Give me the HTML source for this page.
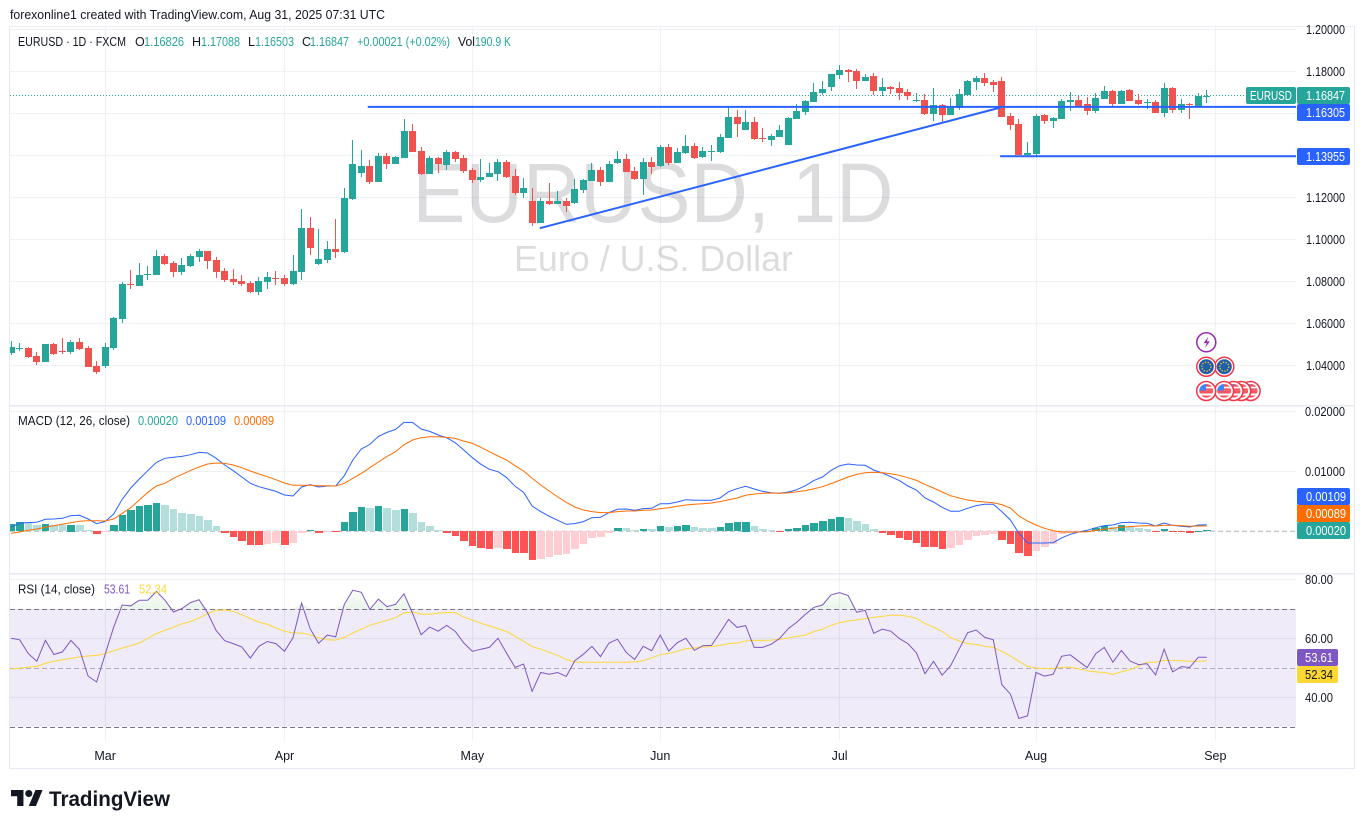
<!DOCTYPE html>
<html lang="en">
<head>
<meta charset="utf-8">
<title>EURUSD 1D chart</title>
<style>
html,body{margin:0;padding:0;background:#fff;width:1364px;height:829px;overflow:hidden}
svg{display:block}
text{font-family:"Liberation Sans",sans-serif;font-size:12.5px;fill:#131722}
</style>
</head>
<body>
<svg id="chart" width="1364" height="829" viewBox="0 0 1364 829" xmlns="http://www.w3.org/2000/svg">
  <defs>
    <clipPath id="pane-clip-main"><rect x="10" y="27" width="1286" height="378"/></clipPath>
    <clipPath id="pane-clip-macd"><rect x="10" y="407" width="1286" height="166"/></clipPath>
    <clipPath id="pane-clip-rsi"><rect x="10" y="575" width="1286" height="166"/></clipPath>
    <linearGradient id="ob-grad" gradientUnits="userSpaceOnUse" x1="0" y1="609" x2="0" y2="585">
      <stop offset="0" stop-color="#4caf50" stop-opacity="0.12"/>
      <stop offset="1" stop-color="#4caf50" stop-opacity="0"/>
    </linearGradient>
  </defs>

  <text x="10" y="19" textLength="375" lengthAdjust="spacingAndGlyphs">forexonline1 created with TradingView.com, Aug 31, 2025 07:31 UTC</text>

  <g id="grid"></g>

  <text x="653" y="222" text-anchor="middle" textLength="481" lengthAdjust="spacingAndGlyphs" style="font-size:84px;fill:rgba(19,23,34,.15)">EURUSD, 1D</text>
  <text x="653.5" y="271" text-anchor="middle" textLength="279" lengthAdjust="spacingAndGlyphs" style="font-size:36px;fill:rgba(19,23,34,.15)">Euro / U.S. Dollar</text>

  <g id="rsi-band-layer"></g>
  <g id="last-price-layer"></g>
  <g id="candles" clip-path="url(#pane-clip-main)" shape-rendering="crispEdges"></g>
  <g id="drawings"></g>
  <g id="macd-layer" clip-path="url(#pane-clip-macd)"></g>
  <g id="rsi-layer" clip-path="url(#pane-clip-rsi)"></g>

  <!-- pane frame -->
  <g fill="#e6e9f1" shape-rendering="crispEdges">
    <rect x="9" y="26" width="1" height="743"/>
    <rect x="9" y="26" width="1346" height="1" fill="#eceef3"/>
    <rect x="1354" y="26" width="1" height="743"/>
    <rect x="9" y="768" width="1346" height="1"/>
    <rect x="10" y="405" width="1344" height="1.5"/>
    <rect x="10" y="573" width="1344" height="1.5"/>
  </g>

  <!-- legends -->
  <g>
    <text x="18" y="46" textLength="108" lengthAdjust="spacingAndGlyphs">EURUSD · 1D · FXCM</text>
    <text x="135" y="46">O</text>
    <text x="144" y="46" textLength="40" lengthAdjust="spacingAndGlyphs" style="fill:#26a69a">1.16826</text>
    <text x="192" y="46">H</text>
    <text x="201" y="46" textLength="39" lengthAdjust="spacingAndGlyphs" style="fill:#26a69a">1.17088</text>
    <text x="248" y="46">L</text>
    <text x="255" y="46" textLength="39" lengthAdjust="spacingAndGlyphs" style="fill:#26a69a">1.16503</text>
    <text x="302" y="46">C</text>
    <text x="310" y="46" textLength="39" lengthAdjust="spacingAndGlyphs" style="fill:#26a69a">1.16847</text>
    <text x="357" y="46" textLength="93" lengthAdjust="spacingAndGlyphs" style="fill:#26a69a">+0.00021 (+0.02%)</text>
    <text x="458" y="46" textLength="17" lengthAdjust="spacingAndGlyphs">Vol</text>
    <text x="475" y="46" textLength="36" lengthAdjust="spacingAndGlyphs" style="fill:#26a69a">190.9 K</text>
  </g>
  <g>
    <text x="18" y="425" textLength="112" lengthAdjust="spacingAndGlyphs">MACD (12, 26, close)</text>
    <text x="138" y="425" textLength="40" lengthAdjust="spacingAndGlyphs" style="fill:#26a69a">0.00020</text>
    <text x="186" y="425" textLength="40" lengthAdjust="spacingAndGlyphs" style="fill:#2962ff">0.00109</text>
    <text x="234" y="425" textLength="40" lengthAdjust="spacingAndGlyphs" style="fill:#ff6d00">0.00089</text>
  </g>
  <g>
    <text x="18" y="593.5" textLength="77" lengthAdjust="spacingAndGlyphs">RSI (14, close)</text>
    <text x="104" y="593.5" textLength="26" lengthAdjust="spacingAndGlyphs" style="fill:#7e57c2">53.61</text>
    <text x="139" y="593.5" textLength="28" lengthAdjust="spacingAndGlyphs" style="fill:#fdd835">52.34</text>
  </g>

  <g id="axis-labels"></g>

  <!-- price-scale tags -->
  <g>
    <rect x="1246" y="87" width="50" height="17" rx="2" fill="#26a69a"/>
    <text x="1250" y="100" textLength="42" lengthAdjust="spacingAndGlyphs" style="fill:#fff">EURUSD</text>
    <rect x="1297" y="87" width="53" height="17" rx="2" fill="#26a69a"/>
    <text x="1306" y="100" textLength="39" lengthAdjust="spacingAndGlyphs" style="fill:#fff">1.16847</text>
    <rect x="1297" y="104" width="53" height="17" rx="2" fill="#2962ff"/>
    <text x="1306" y="117" textLength="39" lengthAdjust="spacingAndGlyphs" style="fill:#fff">1.16305</text>
    <rect x="1297" y="148" width="53" height="17" rx="2" fill="#2962ff"/>
    <text x="1306" y="161" textLength="39" lengthAdjust="spacingAndGlyphs" style="fill:#fff">1.13955</text>
    <rect x="1297" y="488" width="53" height="17" rx="2" fill="#2962ff"/>
    <text x="1306" y="501" textLength="40" lengthAdjust="spacingAndGlyphs" style="fill:#fff">0.00109</text>
    <rect x="1297" y="505" width="53" height="17" fill="#ff6d00"/>
    <text x="1306" y="518" textLength="40" lengthAdjust="spacingAndGlyphs" style="fill:#fff">0.00089</text>
    <rect x="1297" y="522" width="53" height="17" rx="2" fill="#26a69a"/>
    <text x="1306" y="535" textLength="40" lengthAdjust="spacingAndGlyphs" style="fill:#fff">0.00020</text>
    <rect x="1297" y="649" width="41" height="17" rx="2" fill="#7e57c2"/>
    <text x="1305" y="662" textLength="28" lengthAdjust="spacingAndGlyphs" style="fill:#fff">53.61</text>
    <rect x="1297" y="666" width="41" height="17" rx="2" fill="#fdd835"/>
    <text x="1305" y="679" textLength="28" lengthAdjust="spacingAndGlyphs">52.34</text>
  </g>

  <!-- economic event markers -->
  <g>
    <g>
      <circle cx="1206.3" cy="342.3" r="9.5" fill="#fff" stroke="#9c27b0" stroke-width="1.5"/>
      <path d="M1208.3 336.8l-4.6 6.2h3l-1.6 4.8 4.8-6.4h-3z" fill="#9c27b0"/>
    </g>
    <g>
      <circle cx="1224.3" cy="366.7" r="9.5" fill="#fff" stroke="#f23645" stroke-width="1.5"/>
      <circle cx="1224.3" cy="366.7" r="7.5" fill="#1d5fa8"/>
      <circle cx="1224.3" cy="366.7" r="4.5" fill="none" stroke="#f7c325" stroke-width="1.4" stroke-dasharray="1.3 1.5"/>
    </g>
    <g>
      <circle cx="1206.3" cy="366.7" r="9.5" fill="#fff" stroke="#f23645" stroke-width="1.5"/>
      <circle cx="1206.3" cy="366.7" r="7.5" fill="#1d5fa8"/>
      <circle cx="1206.3" cy="366.7" r="4.5" fill="none" stroke="#f7c325" stroke-width="1.4" stroke-dasharray="1.3 1.5"/>
    </g>
    <g id="us-markers"></g>
  </g>

  <!-- logo -->
  <g>
    <g transform="translate(11 786.4) scale(.89)" fill="#131722">
      <path d="M14 22H7V11H0V4h14v18zM28 22h-8l7.5-18h8L28 22z"/>
      <circle cx="20" cy="8" r="4"/>
    </g>
    <text x="49" y="806" textLength="121" lengthAdjust="spacingAndGlyphs" style="font-size:21px;font-weight:700">TradingView</text>
  </g>
</svg>

<script>
// ---------- chart data ----------
const priceTicks = [1.20, 1.18, 1.16, 1.14, 1.12, 1.10, 1.08, 1.06, 1.04];
const macdTicks = [0.02, 0.01];
const rsiTicks = [80, 60, 40];
const rsiLevels = [70, 50, 30];
const monthLabels = ['Mar', 'Apr', 'May', 'Jun', 'Jul', 'Aug', 'Sep'];
const monthBars = [11, 32, 54, 76, 97, 120, 141];

const opens = [
1.0459,1.0478,1.0483,1.0444,1.0416,1.0502,1.0468,1.0463,1.0511,1.0483,
1.0397,1.0397,1.0483,1.0621,1.0787,1.0778,1.0830,1.0830,1.0921,1.0887,
1.0844,1.0873,1.0916,1.0944,1.0902,1.0849,1.0811,1.0802,1.0792,1.0749,
1.0797,1.0816,1.0816,1.0787,1.0844,1.1054,1.0883,1.0902,1.0954,1.0940,
1.1192,1.1316,1.1349,1.1273,1.1397,1.1359,1.1387,1.1516,1.1421,1.1311,
1.1387,1.1354,1.1416,1.1387,1.1330,1.1283,1.1297,1.1311,1.1368,1.1302,
1.1221,1.1183,1.1078,1.1183,1.1168,1.1183,1.1173,1.1235,1.1278,1.1330,
1.1273,1.1364,1.1383,1.1325,1.1287,1.1368,1.1349,1.1440,1.1364,1.1411,
1.1444,1.1392,1.1416,1.1416,1.1483,1.1583,1.1521,1.1559,1.1483,1.1473,
1.1487,1.1449,1.1573,1.1606,1.1654,1.1697,1.1725,1.1783,1.1806,1.1802,
1.1754,1.1778,1.1706,1.1725,1.1721,1.1702,1.1659,1.1664,1.1597,1.1640,
1.1592,1.1625,1.1687,1.1749,1.1768,1.1749,1.1754,1.1587,1.1549,1.1402,
1.1406,1.1592,1.1564,1.1573,1.1654,1.1664,1.1644,1.1611,1.1668,1.1706,
1.1644,1.1711,1.1664,1.1649,1.1654,1.1602,1.1721,1.1616,1.1644,1.1635,
1.16826];
const highs = [
1.0516,1.0506,1.0487,1.0463,1.0502,1.0506,1.0530,1.0521,1.0530,1.0492,
1.0421,1.0506,1.0630,1.0797,1.0854,1.0887,1.0873,1.0949,1.0930,1.0897,
1.0911,1.0930,1.0954,1.0944,1.0916,1.0864,1.0859,1.0830,1.0802,1.0821,
1.0844,1.0849,1.0830,1.0925,1.1144,1.1106,1.1049,1.0992,1.1097,1.1244,
1.1473,1.1425,1.1378,1.1411,1.1411,1.1397,1.1573,1.1549,1.1440,1.1397,
1.1392,1.1425,1.1421,1.1402,1.1340,1.1383,1.1364,1.1383,1.1378,1.1335,
1.1292,1.1244,1.1197,1.1268,1.1230,1.1197,1.1287,1.1287,1.1364,1.1344,
1.1373,1.1421,1.1406,1.1344,1.1387,1.1392,1.1449,1.1454,1.1435,1.1497,
1.1459,1.1440,1.1449,1.1502,1.1630,1.1616,1.1616,1.1583,1.1530,1.1502,
1.1544,1.1583,1.1644,1.1664,1.1744,1.1754,1.1787,1.1830,1.1811,1.1811,
1.1787,1.1792,1.1768,1.1730,1.1749,1.1716,1.1697,1.1692,1.1721,1.1644,
1.1673,1.1716,1.1759,1.1778,1.1792,1.1759,1.1773,1.1602,1.1573,1.1464,
1.1597,1.1597,1.1583,1.1668,1.1702,1.1683,1.1678,1.1697,1.1730,1.1711,
1.1711,1.1716,1.1692,1.1668,1.1664,1.1744,1.1725,1.1668,1.1649,1.1697,
1.17088];
const lows = [
1.0449,1.0468,1.0435,1.0402,1.0416,1.0449,1.0454,1.0454,1.0473,1.0392,
1.0359,1.0387,1.0473,1.0602,1.0764,1.0778,1.0806,1.0830,1.0878,1.0821,
1.0830,1.0868,1.0892,1.0859,1.0816,1.0797,1.0783,1.0778,1.0744,1.0735,
1.0764,1.0783,1.0778,1.0783,1.0806,1.0925,1.0878,1.0887,1.0911,1.0935,
1.1187,1.1297,1.1264,1.1273,1.1335,1.1359,1.1387,1.1416,1.1306,1.1311,
1.1316,1.1330,1.1368,1.1316,1.1268,1.1273,1.1297,1.1278,1.1292,1.1211,
1.1197,1.1064,1.1078,1.1164,1.1168,1.1130,1.1168,1.1221,1.1278,1.1254,
1.1273,1.1359,1.1321,1.1283,1.1211,1.1311,1.1344,1.1354,1.1364,1.1406,
1.1383,1.1387,1.1373,1.1411,1.1483,1.1487,1.1521,1.1473,1.1464,1.1444,
1.1487,1.1449,1.1573,1.1592,1.1654,1.1687,1.1706,1.1764,1.1749,1.1716,
1.1754,1.1687,1.1683,1.1692,1.1664,1.1664,1.1654,1.1592,1.1564,1.1559,
1.1592,1.1616,1.1683,1.1711,1.1730,1.1702,1.1583,1.1521,1.1402,1.1397,
1.1397,1.1549,1.1530,1.1573,1.1611,1.1630,1.1592,1.1602,1.1668,1.1630,
1.1644,1.1659,1.1640,1.1621,1.1602,1.1583,1.1602,1.1602,1.1573,1.1630,
1.16503];
const closes = [
1.0487,1.0483,1.0440,1.0416,1.0502,1.0454,1.0463,1.0511,1.0478,1.0392,
1.0368,1.0487,1.0625,1.0787,1.0783,1.0830,1.0835,1.0921,1.0883,1.0844,
1.0878,1.0921,1.0944,1.0897,1.0844,1.0806,1.0797,1.0787,1.0749,1.0802,
1.0821,1.0811,1.0787,1.0849,1.1054,1.0959,1.0906,1.0954,1.0940,1.1197,
1.1359,1.1349,1.1273,1.1397,1.1359,1.1392,1.1516,1.1416,1.1311,1.1387,
1.1359,1.1416,1.1383,1.1325,1.1283,1.1297,1.1316,1.1368,1.1297,1.1221,
1.1244,1.1078,1.1183,1.1168,1.1183,1.1159,1.1240,1.1283,1.1330,1.1273,
1.1359,1.1383,1.1321,1.1287,1.1368,1.1344,1.1440,1.1364,1.1416,1.1444,
1.1387,1.1421,1.1421,1.1487,1.1583,1.1549,1.1559,1.1478,1.1478,1.1492,
1.1521,1.1578,1.1611,1.1659,1.1702,1.1716,1.1787,1.1806,1.1797,1.1754,
1.1773,1.1706,1.1725,1.1716,1.1697,1.1683,1.1664,1.1597,1.1640,1.1592,
1.1630,1.1692,1.1754,1.1768,1.1744,1.1735,1.1583,1.1544,1.1402,1.1411,
1.1587,1.1564,1.1578,1.1659,1.1664,1.1635,1.1611,1.1673,1.1706,1.1644,
1.1706,1.1659,1.1644,1.1654,1.1602,1.1721,1.1616,1.1644,1.1640,1.1683,
1.16847];

// MACD values in units of 0.00001
const macdHist = [
123,156,139,106,123,106,103,111,106,22,
-45,-11,106,273,356,429,440,473,440,373,
306,290,256,189,89,-28,-95,-162,-228,-231,
-212,-209,-228,-195,-28,22,-28,-11,-17,156,
323,407,390,423,390,356,373,306,156,89,
22,-28,-78,-162,-245,-279,-295,-279,-295,-362,
-365,-479,-462,-429,-395,-379,-295,-212,-111,-95,
-28,56,53,22,39,36,89,72,89,106,
72,56,53,72,139,156,159,89,39,22,
-11,39,56,106,139,173,206,240,223,173,
123,39,-28,-61,-111,-145,-195,-262,-265,-295,
-279,-228,-145,-78,-61,-45,-145,-212,-362,-412,
-329,-262,-212,-45,-28,-11,6,56,89,72,
106,72,56,39,-11,39,-11,-14,-28,6,
20];
const macdLine = [
72,139,145,150,201,206,217,262,267,206,
128,162,290,535,724,874,1014,1153,1220,1237,
1253,1281,1320,1309,1220,1108,1014,908,802,746,
707,668,607,590,741,780,741,758,758,930,
1192,1376,1454,1587,1654,1704,1821,1821,1710,1671,
1610,1565,1480,1359,1231,1120,1036,997,902,752,
652,423,329,251,184,117,128,162,228,234,
312,368,373,351,379,384,462,462,490,529,
518,518,518,557,663,713,752,707,668,646,
635,657,696,763,852,908,1019,1097,1125,1108,
1103,1025,975,913,847,758,691,557,490,401,
334,334,384,429,451,451,329,189,-33,-195,
-195,-195,-189,-111,-50,-11,17,61,95,106,
145,150,139,134,89,139,100,84,72,106,
109];
const macdSignal = [
-33,-11,17,39,67,95,117,145,167,178,
178,173,206,301,395,524,652,758,802,886,
952,1019,1075,1125,1142,1136,1108,1064,1008,958,
913,863,808,769,769,769,763,763,758,802,
886,969,1064,1159,1253,1331,1448,1526,1565,1582,
1582,1571,1554,1509,1470,1404,1331,1259,1192,1097,
1008,886,774,674,574,485,407,356,329,312,
312,329,340,340,351,356,379,395,418,440,
451,462,473,496,529,557,602,624,635,641,
635,646,663,680,713,746,797,852,908,952,
980,986,980,964,936,897,852,785,724,657,
596,557,524,501,490,479,446,390,256,173,
106,50,11,-11,-11,-11,-6,17,33,50,
67,78,89,95,89,100,100,95,84,89,
89];

const rsiValues = [
60.0,59.5,54.8,52.2,59.3,54.5,55.4,59.3,56.2,47.2,
45.2,54.5,63.8,71.3,71.0,72.9,72.9,75.9,72.9,68.9,
70.1,72.1,73.1,68.6,62.6,59.2,58.2,57.1,53.3,57.3,
58.9,58.2,55.6,60.2,71.9,63.3,58.3,61.1,60.5,71.5,
76.3,75.6,69.8,73.3,70.7,71.5,75.1,68.4,61.2,63.8,
62.4,64.4,62.3,58.4,55.6,56.3,56.9,60.0,55.0,50.1,
51.3,42.0,48.4,47.8,48.4,47.1,52.4,54.6,57.3,53.8,
58.4,59.7,55.3,52.8,57.3,55.8,61.1,55.7,58.5,60.0,
55.9,57.5,57.6,61.9,66.4,63.7,64.3,56.9,56.9,58.0,
60.0,63.3,65.5,68.1,70.5,71.3,74.7,75.5,74.5,68.8,
69.5,61.7,63.1,62.4,59.9,58.2,55.1,48.0,52.2,47.5,
50.7,56.3,61.9,62.8,60.3,59.5,44.3,41.1,32.8,33.7,
48.4,47.2,47.8,53.9,54.4,52.2,50.1,54.8,56.9,51.9,
55.9,52.3,51.1,51.4,47.6,56.3,48.6,50.4,50.1,53.6,
53.61];
const rsiMa = [
49.6,49.9,50.2,50.5,51.5,52.2,52.7,53.2,53.7,54.0,
54.2,54.8,55.8,56.7,57.5,58.4,59.9,61.6,62.7,63.8,
64.9,65.7,66.9,68.4,69.5,69.6,69.2,68.0,66.7,65.5,
64.7,63.5,62.4,61.8,61.8,61.2,60.2,59.5,59.4,60.3,
61.8,63.1,64.4,65.3,66.1,67.0,68.6,68.9,68.2,68.2,
68.5,68.7,68.7,67.2,66.2,65.1,64.2,63.3,62.3,60.7,
59.0,57.2,56.3,55.3,54.2,52.8,52.0,51.9,51.9,51.9,
51.9,51.9,51.9,52.0,52.4,53.4,54.4,54.9,55.6,56.5,
56.7,57.1,57.2,57.6,58.2,58.4,59.1,59.3,59.3,59.4,
59.7,60.1,60.6,61.1,62.3,63.1,64.4,65.3,65.9,66.2,
66.6,67.1,67.5,67.8,67.8,67.5,66.7,65.0,63.8,62.3,
60.3,59.1,58.2,57.9,57.3,56.9,55.6,54.0,52.2,50.5,
49.9,49.8,49.7,50.2,50.2,49.7,49.0,48.6,48.4,47.8,
48.6,49.4,50.6,51.9,51.9,52.5,52.5,52.4,52.2,52.2,
52.34];

const lastPrice = 1.16847;
const resistancePrice = 1.16305;
const supportPrice = 1.13955;
const resistanceStartBar = 41.75;
const supportStartBar = 115.8;
const trendStartBar = 61.9;
const trendEndBar = 115.8;
const trendStartPrice = 1.1053;
const trendEndPrice = 1.1627;
const usMarkerBars = [140, 142.1, 143.2, 144.1, 145.2];

// ---------- axis functions ----------
const NS = 'http://www.w3.org/2000/svg';
const PANE_LEFT = 10, PANE_RIGHT = 1296;
function xOf(i) { return 11.2 + 8.54 * i; }
function pxOf(i) { return Math.floor(xOf(i)); }
function yPrice(p) { return 365.3 - (p - 1.04) * 2100; }
function yMacd(v) { return 531.3 - v * 5980; }
function yRsi(v) { return 638.3 - (v - 60) * 2.95; }
function macdUnits(n) { return n * 0.00001; }

function make(tag, attrs, parent) {
  const el = document.createElementNS(NS, tag);
  for (const k in attrs) el.setAttribute(k, attrs[k]);
  parent.appendChild(el);
  return el;
}
function polyPoints(values, yFn) {
  return values.map(function (v, i) { return xOf(i).toFixed(1) + ',' + yFn(v).toFixed(1); }).join(' ');
}

const gridLayer = document.getElementById('grid');
const axisLayer = document.getElementById('axis-labels');

// ---------- RSI band (below grid lines' visual weight) ----------
const rsiBandLayer = document.getElementById('rsi-band-layer');
const bandRect = make('rect', { x: PANE_LEFT, y: yRsi(rsiLevels[0]), width: PANE_RIGHT - PANE_LEFT, height: yRsi(rsiLevels[2]) - yRsi(rsiLevels[0]), fill: 'rgba(126,87,194,.12)' }, rsiBandLayer);



// ---------- grid + tick labels ----------
function hGrid(y, name) {
  const l = make('line', { x1: PANE_LEFT, x2: PANE_RIGHT, y1: Math.floor(y) + 0.5, y2: Math.floor(y) + 0.5, stroke: '#eff1f5', 'stroke-width': 1.2 }, gridLayer);
  
  
}
function axisText(str, x, y, len, name) {
  const t = make('text', { x: x, y: y, textLength: len, lengthAdjust: 'spacingAndGlyphs' }, axisLayer);
  t.textContent = str;
  
  
  return t;
}
priceTicks.forEach(function (p) {
  hGrid(yPrice(p), 'price-grid-line');
  axisText(p.toFixed(5), 1306, yPrice(p) + 4.5, 39, 'price-tick-label');
});
macdTicks.forEach(function (v) {
  hGrid(yMacd(v), 'macd-grid-line');
  axisText(v.toFixed(5), 1305, yMacd(v) + 4.5, 40, 'macd-tick-label');
});
rsiTicks.forEach(function (v) {
  hGrid(yRsi(v), 'rsi-grid-line');
  axisText(v.toFixed(2), 1305, yRsi(v) + 4.5, 28, 'rsi-tick-label');
});
monthLabels.forEach(function (m, k) {
  const x = xOf(monthBars[k]);
  const g = make('line', { x1: Math.floor(x) + 0.5, x2: Math.floor(x) + 0.5, y1: 27, y2: 741, stroke: '#eff1f5', 'stroke-width': 1.2 }, gridLayer);
  
  
  const t = make('text', { x: x, y: 760, 'text-anchor': 'middle' }, axisLayer);
  t.textContent = m;
  
  
});

// ---------- last price dotted line ----------
const lastLine = make('line', { x1: PANE_LEFT, x2: 1246, y1: Math.floor(yPrice(lastPrice)) + 0.5, y2: Math.floor(yPrice(lastPrice)) + 0.5, stroke: '#26a69a', 'stroke-width': 1, 'stroke-dasharray': '1 2' }, document.getElementById('last-price-layer'));



// ---------- candles ----------
const candleLayer = document.getElementById('candles');
closes.forEach(function (c, i) {
  const o = opens[i];
  const up = c >= o;
  const col = up ? '#26a69a' : '#ef5350';
  const px = pxOf(i);
  const g = make('g', { fill: col }, candleLayer);
  
  
  const top = Math.round(yPrice(Math.max(o, c)));
  const bot = Math.round(yPrice(Math.min(o, c)));
  const hiY = Math.round(yPrice(highs[i]));
  const loY = Math.round(yPrice(lows[i]));
  make('rect', { x: px, y: hiY, width: 1, height: Math.max(1, loY - hiY) }, g);
  make('rect', { x: px - 3, y: top, width: 7, height: Math.max(1, bot - top) }, g);
});

// ---------- drawings ----------
const drawLayer = document.getElementById('drawings');
const resLine = make('line', { x1: xOf(resistanceStartBar), x2: PANE_RIGHT, y1: yPrice(resistancePrice), y2: yPrice(resistancePrice), stroke: '#2962ff', 'stroke-width': 2 }, drawLayer);


const supLine = make('line', { x1: xOf(supportStartBar), x2: PANE_RIGHT, y1: yPrice(supportPrice), y2: yPrice(supportPrice), stroke: '#2962ff', 'stroke-width': 2 }, drawLayer);


const trend = make('line', { x1: xOf(trendStartBar), x2: xOf(trendEndBar), y1: yPrice(trendStartPrice), y2: yPrice(trendEndPrice), stroke: '#2962ff', 'stroke-width': 2 }, drawLayer);



// ---------- MACD ----------
const macdLayer = document.getElementById('macd-layer');
const zeroLine = make('line', { x1: PANE_LEFT, x2: PANE_RIGHT, y1: yMacd(0), y2: yMacd(0), stroke: '#b2b5be', 'stroke-width': 1, 'stroke-dasharray': '5 3' }, macdLayer);


const macdHistGroup = make('g', { 'shape-rendering': 'crispEdges' }, macdLayer);


macdHist.forEach(function (h, i) {
  const prev = i > 0 ? macdHist[i - 1] : h - 1;
  let col;
  if (h >= 0) col = h > prev ? '#26a69a' : '#b2dfdb';
  else col = h < prev ? '#ff5252' : '#ffcdd2';
  const left = pxOf(i) - 3;
  const right = pxOf(i + 1) - 3 - 1;
  const y0 = yMacd(0);
  const y1 = yMacd(macdUnits(h));
  const bar = make('rect', { x: left, y: Math.round(Math.min(y0, y1)), width: right - left, height: Math.max(1, Math.round(Math.abs(y1 - y0))), fill: col }, macdHistGroup);
  
  
});
const macdPoly = make('polyline', { points: polyPoints(macdLine, function (v) { return yMacd(macdUnits(v)); }), fill: 'none', stroke: '#2962ff', 'stroke-width': 1 }, macdLayer);


const signalPoly = make('polyline', { points: polyPoints(macdSignal, function (v) { return yMacd(macdUnits(v)); }), fill: 'none', stroke: '#ff6d00', 'stroke-width': 1 }, macdLayer);



// ---------- RSI ----------
const rsiLayer = document.getElementById('rsi-layer');
const obY = yRsi(rsiLevels[0]);
const obPts = rsiValues.map(function (v, i) { return xOf(i).toFixed(1) + ',' + Math.min(obY, yRsi(v)).toFixed(1); });
obPts.unshift(xOf(0).toFixed(1) + ',' + obY);
obPts.push(xOf(rsiValues.length - 1).toFixed(1) + ',' + obY);
const obFill = make('polygon', { points: obPts.join(' '), fill: 'url(#ob-grad)' }, rsiLayer);


rsiLevels.forEach(function (lv, k) {
  const l = make('line', { x1: PANE_LEFT, x2: PANE_RIGHT, y1: Math.round(yRsi(lv)) + 0.5, y2: Math.round(yRsi(lv)) + 0.5, stroke: k === 1 ? '#b2abc0' : '#787b86', 'stroke-width': 1, 'stroke-dasharray': '5 3' }, rsiLayer);
  
  
});
const maPoly = make('polyline', { points: polyPoints(rsiMa, yRsi), fill: 'none', stroke: '#fdd835', 'stroke-width': 1 }, rsiLayer);


const rsiPoly = make('polyline', { points: polyPoints(rsiValues, yRsi), fill: 'none', stroke: '#7e57c2', 'stroke-width': 1 }, rsiLayer);



// ---------- US event markers (drawn right-to-left) ----------
const usLayer = document.getElementById('us-markers');
usMarkerBars.slice().reverse().forEach(function (bar) {
  const cx = xOf(bar) - 0.6;
  const cy = 391;
  const g = make('g', {}, usLayer);
  
  
  make('circle', { cx: cx, cy: cy, r: 9.5, fill: '#fff', stroke: '#f23645', 'stroke-width': 1.5 }, g);
  make('path', { d: 'M' + (cx - 7) + ' ' + (cy - 0.5) + 'h14a7 7 0 0 1-.8 3h-12.4a7 7 0 0 1-.8-3z', fill: '#f7525f' }, g);
  make('path', { d: 'M' + (cx - 5) + ' ' + (cy + 4.5) + 'h10a7 7 0 0 1-10 0z', fill: '#f7525f' }, g);
  make('path', { d: 'M' + cx + ' ' + (cy - 7) + 'a7 7 0 0 0-7 6.6h7z', fill: '#4285f4' }, g);
  make('path', { d: 'M' + cx + ' ' + (cy - 7) + 'a7 7 0 0 1 5.6 2.8h-5.6zM' + cx + ' ' + (cy - 2.6) + 'h6.4l.5 2h-6.9z', fill: '#f7525f' }, g);
});
</script>
</body>
</html>
